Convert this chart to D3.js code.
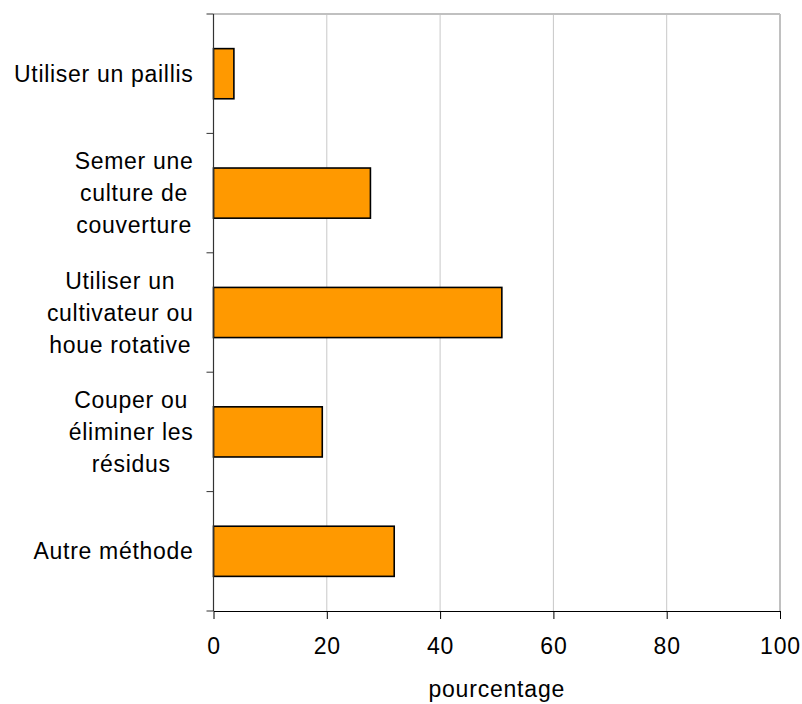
<!DOCTYPE html>
<html>
<head>
<meta charset="utf-8">
<script src="https://cdn.jsdelivr.net/npm/d3@7"></script>
<style>
  html, body { margin: 0; padding: 0; background: #fff; }
  svg text { font-family: "Liberation Sans", Arial, sans-serif; fill: #000; }
</style>
</head>
<body>
<svg id="chart" width="802" height="704"></svg>
<script>
// Méthodes de gestion des résidus (pourcentage des répondants)
const categories = [
  ["Utiliser un paillis"],
  ["Semer une", "culture de", "couverture"],
  ["Utiliser un", "cultivateur ou", "houe rotative"],
  ["Couper ou", "éliminer les", "résidus"],
  ["Autre méthode"]
];
const values = [3.6, 27.7, 50.9, 19.2, 31.9];
const xTicks = [0, 20, 40, 60, 80, 100];
const xTitle = "pourcentage";

const margin = { top: 14, left: 213.5, right: 22, bottom: 93 };
const W = 802, H = 704;
const svg = d3.select("#chart");
const plotW = W - margin.left - margin.right;
const plotH = H - margin.top - margin.bottom;
const g = svg.append("g").attr("transform", `translate(${margin.left},${margin.top})`);

const x = d3.scaleLinear().domain([0, 100]).range([0, plotW]);
const y = d3.scaleBand().domain(d3.range(categories.length)).range([0, plotH])
  .paddingInner(0.58).paddingOuter(0.29);

// vertical gridlines
g.selectAll("line.grid").data(xTicks.filter(t => t > 0)).join("line")
  .attr("class", "grid")
  .attr("x1", d => x(d)).attr("x2", d => x(d))
  .attr("y1", 0).attr("y2", plotH)
  .attr("stroke", "#c8c8c8").attr("stroke-width", 1);

// plot frame: top and right edges
g.append("line").attr("x1", 0).attr("x2", plotW).attr("y1", 0).attr("y2", 0)
  .attr("stroke", "#c0c0c0").attr("stroke-width", 2);
g.append("line").attr("x1", plotW).attr("x2", plotW).attr("y1", 0).attr("y2", plotH)
  .attr("stroke", "#c0c0c0").attr("stroke-width", 2);

// bars
g.selectAll("rect.bar").data(values).join("rect")
  .attr("class", "bar")
  .attr("x", x(0))
  .attr("y", (d, i) => y(i))
  .attr("width", d => x(d) - x(0))
  .attr("height", y.bandwidth())
  .attr("fill", "#FF9900")
  .attr("stroke", "#000")
  .attr("stroke-width", 1.6);

// x axis
const xAxis = g.append("g").attr("transform", `translate(0,${plotH})`)
  .call(d3.axisBottom(x).tickValues(xTicks).tickSize(8).tickPadding(19).tickSizeOuter(0));
xAxis.select(".domain").attr("stroke", "#000").attr("stroke-width", 1.2);
xAxis.selectAll(".tick line").attr("stroke", "#000");
xAxis.selectAll(".tick text")
  .attr("font-size", 23)
  .attr("letter-spacing", "0.8px")
  .attr("font-family", "Liberation Sans, Arial, sans-serif");

// y axis: ticks on band boundaries
const yBounds = d3.range(categories.length + 1).map(i => i * y.step());
g.append("line").attr("x1", 0).attr("x2", 0).attr("y1", 0).attr("y2", plotH)
  .attr("stroke", "#333").attr("stroke-width", 1.2);
g.selectAll("line.ytick").data(yBounds).join("line")
  .attr("class", "ytick")
  .attr("x1", -7).attr("x2", 0)
  .attr("y1", d => d).attr("y2", d => d)
  .attr("stroke", "#333").attr("stroke-width", 1);

// category labels: lines centred within a block right-aligned against the axis
const lineH = 32;
const labelRight = -20;
categories.forEach((lines, i) => {
  const cy = y(i) + y.bandwidth() / 2;
  const t = g.append("text").attr("font-size", 23)
    .attr("letter-spacing", "0.7px").attr("text-anchor", "middle");
  const spans = lines.map((ln, k) => t.append("tspan").text(ln)
    .attr("y", cy + (k - (lines.length - 1) / 2) * lineH)
    .attr("dy", "0.35em"));
  const maxW = d3.max(spans, s => s.node().getComputedTextLength());
  spans.forEach(s => s.attr("x", labelRight - maxW / 2));
});

// axis title
g.append("text").attr("x", plotW / 2).attr("y", plotH + 86)
  .attr("text-anchor", "middle").attr("font-size", 23)
  .attr("letter-spacing", "0.8px").text(xTitle);
</script>
</body>
</html>
